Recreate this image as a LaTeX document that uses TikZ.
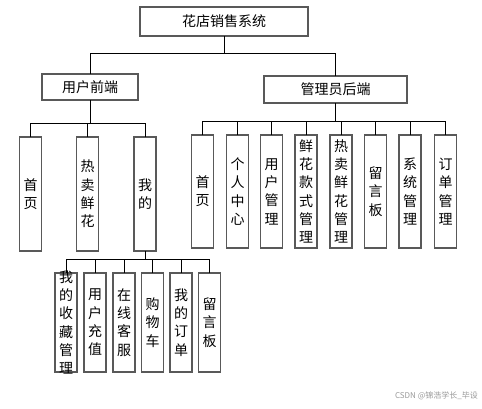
\documentclass[tikz,border=0pt]{standalone}
\usepackage{fontspec}
\newfontfamily\cjk{Noto Sans CJK SC}
\begin{document}
\begin{tikzpicture}[x=1pt,y=-1pt,
  boxframe/.style={draw=black!65,line width=1.1pt,fill=white,inner sep=0pt,outer sep=0pt,
    font=\cjk\fontsize{14}{18.3}\selectfont,align=center},
  hbox/.style={boxframe},
  vbox/.style={boxframe,minimum width=22pt},
  vtext/.style={inner sep=0pt,font=\cjk\fontsize{14}{18.3}\selectfont,align=center},
  conn/.style={draw=black,line width=0.8pt},
  wmark/.style={font=\cjk\fontsize{8}{9}\selectfont,text=black!40,inner sep=0pt}
]
\useasboundingbox (0,0) rectangle (482,408);
% main boxes
\node[hbox,minimum width=168pt,minimum height=29pt] (root) at (224,21.5) {花店销售系统};
\node[hbox,minimum width=96pt,minimum height=26pt] (user) at (90,87) {用户前端};
\node[hbox,minimum width=143pt,minimum height=27pt] (admin) at (335.5,89.5) {管理员后端};
% bus coordinates
\coordinate (b0) at (224,53);
\coordinate (b1) at (90,123);
\coordinate (b2) at (335.5,121);
% user children
\node[vbox,minimum height=114pt] (u1) at (30.5,194) {首\\页};
\node[vbox,minimum height=114pt] (u2) at (87.5,194) {热\\卖\\鲜\\花};
\node[vbox,minimum height=114pt] (u3) at (145,194) {我\\的};
\coordinate (b3) at (145,259);
% admin children
\node[vbox,minimum height=113pt] (a1) at (202.5,191.5) {首\\页};
\node[vbox,minimum height=113pt] (a2) at (237.5,191.5) {个\\人\\中\\心};
\node[vbox,minimum height=113pt] (a3) at (271.5,191.5) {用\\户\\管\\理};
\node[vbox,minimum height=113pt] (a4) at (306,191.5) {鲜\\花\\款\\式\\管\\理};
\node[vbox,minimum height=113pt] (a5) at (341,191.5) {热\\卖\\鲜\\花\\管\\理};
\node[vbox,minimum height=113pt] (a6) at (375.5,191.5) {留\\言\\板};
\node[vbox,minimum height=113pt] (a7) at (410,191.5) {系\\统\\管\\理};
\node[vbox,minimum height=113pt] (a8) at (445.5,191.5) {订\\单\\管\\理};
% mine children
\node[vbox,minimum height=99pt] (m1) at (66,322.5) {};
\node[vtext] (m1t) at (m1) {我\\的\\收\\藏\\管\\理};
\node[vbox,minimum height=99pt] (m2) at (95,322.5) {用\\户\\充\\值};
\node[vbox,minimum height=99pt] (m3) at (124,322.5) {在\\线\\客\\服};
\node[vbox,minimum height=99pt] (m4) at (152.5,322.5) {购\\物\\车};
\node[vbox,minimum height=99pt] (m5) at (181,322.5) {我\\的\\订\\单};
\node[vbox,minimum height=99pt] (m6) at (209.5,322.5) {留\\言\\板};
% connectors
\draw[conn] (root) -- (b0);
\draw[conn] (b0) -| (user);
\draw[conn] (b0) -| (admin);
\draw[conn] (user) -- (b1);
\foreach \n in {u1,u2,u3} \draw[conn] (b1) -| (\n);
\draw[conn] (admin) -- (b2);
\foreach \n in {a1,a2,a3,a4,a5,a6,a7,a8} \draw[conn] (b2) -| (\n);
\draw[conn] (u3) -- (b3);
\foreach \n in {m1,m2,m3,m4,m5,m6} \draw[conn] (b3) -| (\n);
% watermark
\node[wmark,anchor=east] (wm) at (478,396) {CSDN @锦浩学长\_毕设};
\end{tikzpicture}
\end{document}
